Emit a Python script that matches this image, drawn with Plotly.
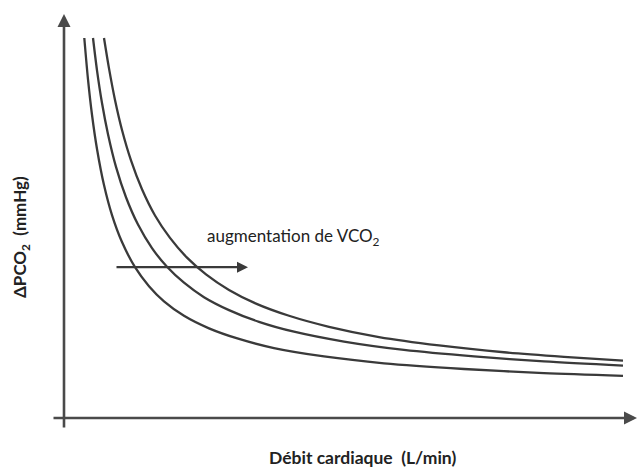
import plotly.graph_objects as go

# Curves (arbitrary units: x = cardiac output, y = ΔPCO2)
curve_low_x = [0.406, 0.48, 0.56, 0.66, 0.80, 0.96, 1.16, 1.42, 1.70, 2.00, 2.40, 2.90, 3.50, 4.20, 5.20, 6.40, 8.00, 9.60, 11.18]
curve_low_y = [10.0, 8.91, 7.98, 7.08, 6.13, 5.34, 4.63, 3.97, 3.47, 3.07, 2.69, 2.36, 2.08, 1.84, 1.62, 1.44, 1.29, 1.18, 1.11]

curve_mid_x = [0.58, 0.66, 0.76, 0.88, 1.04, 1.24, 1.48, 1.76, 2.06, 2.40, 2.80, 3.30, 3.90, 4.60, 5.60, 6.80, 8.20, 9.60, 11.18]
curve_mid_y = [10.0, 9.15, 8.29, 7.47, 6.61, 5.81, 5.09, 4.47, 3.98, 3.56, 3.18, 2.84, 2.53, 2.27, 2.01, 1.79, 1.62, 1.49, 1.38]

curve_high_x = [0.80, 0.90, 1.02, 1.16, 1.34, 1.56, 1.82, 2.12, 2.46, 2.84, 3.30, 3.84, 4.50, 5.30, 6.30, 7.50, 8.80, 10.00, 11.18]
curve_high_y = [10.0, 9.20, 8.37, 7.58, 6.78, 6.02, 5.33, 4.74, 4.22, 3.78, 3.37, 3.01, 2.69, 2.40, 2.13, 1.91, 1.73, 1.61, 1.51]

arrow_start = (1.02, 3.97)
arrow_end = (3.68, 3.97)

x_axis_span = (-0.24, 11.46)
y_axis_span = (-0.29, 10.63)

line_color = "#3a3a3a"
axis_color = "#4a4a4a"

fig = go.Figure()
for xs, ys in [(curve_low_x, curve_low_y), (curve_mid_x, curve_mid_y), (curve_high_x, curve_high_y)]:
    fig.add_trace(go.Scatter(x=xs, y=ys, mode="lines",
                             line=dict(color=line_color, width=2.3, shape="spline", smoothing=0.8),
                             showlegend=False, hoverinfo="skip"))

# axes with arrows
fig.add_annotation(x=x_axis_span[1], y=0, ax=x_axis_span[0], ay=0,
                   xref="x", yref="y", axref="x", ayref="y", text="",
                   showarrow=True, arrowhead=2, arrowsize=1.0, arrowwidth=2.6, arrowcolor=axis_color)
fig.add_annotation(x=0, y=y_axis_span[1], ax=0, ay=y_axis_span[0],
                   xref="x", yref="y", axref="x", ayref="y", text="",
                   showarrow=True, arrowhead=2, arrowsize=1.0, arrowwidth=2.6, arrowcolor=axis_color)

# VCO2 arrow
fig.add_annotation(x=arrow_end[0], y=arrow_end[1], ax=arrow_start[0], ay=arrow_start[1],
                   xref="x", yref="y", axref="x", ayref="y", text="",
                   showarrow=True, arrowhead=2, arrowsize=1.0, arrowwidth=2.2, arrowcolor=line_color)

fig.add_annotation(x=205, y=237, xref="paper", yref="paper", text="augmentation de VCO<sub>2</sub>",
                   showarrow=False, xanchor="left", yanchor="middle",
                   font=dict(family="Lato", size=17, color="#222"))

fig.add_annotation(x=362, y=457, xref="paper", yref="paper",
                   text="<b>Débit cardiaque  (L/min)</b>", showarrow=False,
                   xanchor="center", yanchor="middle",
                   font=dict(family="Lato", size=17.5, color="#222"))

fig.add_annotation(x=21, y=237, xref="paper", yref="paper",
                   text="<b>ΔPCO<sub>2</sub>  (mmHg)</b>", showarrow=False, textangle=-90,
                   xanchor="center", yanchor="middle",
                   font=dict(family="Lato", size=17, color="#222"))

# paper coordinates given in pixels: convert
W, H = 638, 469
for ann in fig.layout.annotations:
    if ann.xref == "paper":
        ann.x = ann.x / W
        ann.y = 1 - ann.y / H

fig.update_layout(
    width=W, height=H,
    margin=dict(l=0, r=0, t=0, b=0),
    paper_bgcolor="white", plot_bgcolor="white",
    xaxis=dict(range=[-1.28, 11.48], visible=False, fixedrange=True),
    yaxis=dict(range=[-1.342, 11.0], visible=False, fixedrange=True),
)

fig.write_html("out.html")
